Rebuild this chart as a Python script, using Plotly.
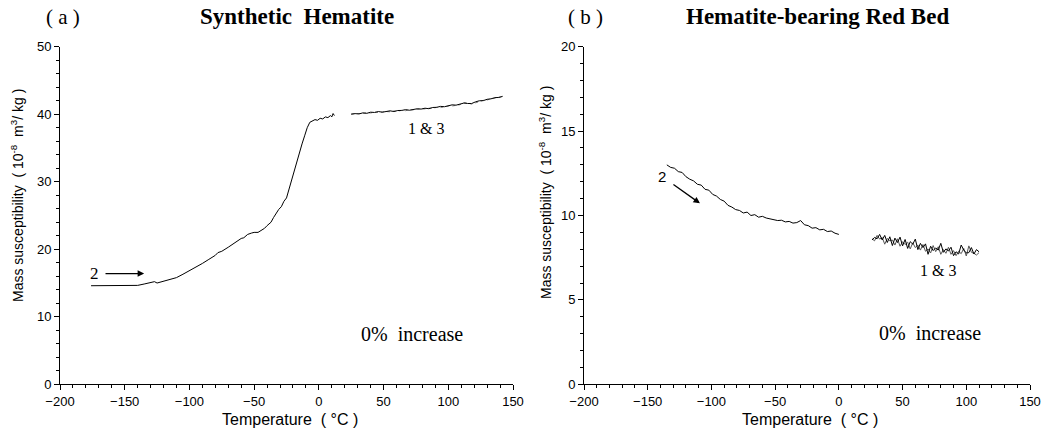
import plotly.graph_objects as go

# ---------------- data: panel (a) Synthetic Hematite ----------------
a_cool_x = [-176, -170, -165, -160, -155, -150, -145, -140, -135, -130, -127, -125, -120, -115, -110,
            -105, -100, -95, -90, -85, -80, -78, -75, -70, -65, -60, -58, -55, -52, -50, -47, -45,
            -42, -40, -37, -35, -33, -31, -29, -27, -25, -23, -21, -19, -17, -15, -13, -11, -9, -7,
            -5, -3, -1, 1, 3, 5, 7, 9, 10, 11, 12]
a_cool_y = [14.6, 14.6, 14.6, 14.6, 14.6, 14.6, 14.6, 14.65, 14.85, 15.0, 15.2, 15.0, 15.3, 15.5, 15.8,
            16.3, 16.8, 17.3, 17.9, 18.5, 19.1, 19.5, 19.7, 20.3, 21.0, 21.6, 21.7, 22.2, 22.4, 22.5,
            22.5, 22.7, 23.1, 23.5, 24.0, 24.7, 25.4, 25.9, 26.3, 27.1, 27.6, 29.0, 30.2, 31.5, 32.8,
            34.2, 35.6, 36.8, 38.0, 38.8, 39.0, 39.2, 39.1, 39.4, 39.3, 39.6, 39.5, 39.8, 39.6, 40.1, 39.8]

a_heat_x = [25, 28, 31, 34, 37, 40, 43, 46, 49, 52, 55, 58, 61, 64, 67, 70, 73, 76, 79, 82,
            85, 88, 91, 94, 97, 100, 103, 106, 109, 112, 115, 118, 121, 124, 127, 130, 133, 136, 139, 142]
a_heat1_y = [40.00, 40.09, 40.04, 40.20, 40.13, 40.30, 40.26, 40.40, 40.30, 40.42, 40.50, 40.40, 40.55,
             40.56, 40.68, 40.59, 40.72, 40.81, 40.76, 40.89, 40.82, 41.00, 41.02, 41.16, 41.11, 41.26,
             41.39, 41.34, 41.48, 41.65, 41.59, 41.58, 41.83, 41.99, 42.01, 42.21, 42.28, 42.46, 42.48, 42.65]
a_heat3_y = [40.05, 40.02, 40.10, 40.12, 40.22, 40.18, 40.30, 40.26, 40.38, 40.40, 40.36, 40.48, 40.45,
             40.58, 40.52, 40.66, 40.64, 40.74, 40.80, 40.78, 40.90, 40.88, 41.02, 40.98, 41.14, 41.20,
             41.22, 41.36, 41.40, 41.72, 41.68, 41.50, 41.74, 41.86, 42.06, 42.10, 42.30, 42.34, 42.52, 42.58]

# ---------------- data: panel (b) Hematite-bearing Red Bed ----------------
b_cool_x = [-135, -132, -129, -126, -123, -120, -117, -114, -111, -108, -105, -102, -99, -96, -93, -90,
            -87, -84, -81, -78, -75, -72, -69, -66, -63, -60, -57, -54, -51, -48, -45, -42, -39, -36,
            -33, -30, -27, -24, -21, -18, -15, -12, -9, -6, -3, 0]
b_cool_y = [13.00, 12.85, 12.80, 12.60, 12.55, 12.30, 12.15, 12.05, 11.85, 11.80, 11.55, 11.50, 11.25,
            11.15, 10.95, 10.85, 10.60, 10.50, 10.35, 10.30, 10.15, 10.20, 10.00, 10.05, 9.90, 9.95,
            9.85, 9.80, 9.75, 9.70, 9.72, 9.62, 9.65, 9.55, 9.58, 9.70, 9.45, 9.40, 9.25, 9.28, 9.15,
            9.18, 9.05, 9.08, 8.95, 8.88]

b_heat_x = [26, 28, 30, 32, 34, 36, 38, 40, 42, 44, 46, 48, 50, 52, 54, 56, 58, 60, 62, 64, 66, 68,
            70, 72, 74, 76, 78, 80, 82, 84, 86, 88, 90, 92, 94, 96, 98, 100, 102, 104, 106, 108, 110]
b_heat1_y = [8.55, 8.70, 8.62, 8.88, 8.55, 8.82, 8.40, 8.74, 8.22, 8.66, 8.40, 8.72, 8.20, 8.58, 8.05,
             8.45, 8.30, 8.60, 7.98, 8.35, 8.10, 8.32, 7.70, 8.18, 7.92, 8.08, 7.95, 8.35, 7.82, 8.02,
             7.90, 8.12, 7.62, 7.85, 7.72, 8.25, 7.95, 7.78, 7.80, 8.10, 7.72, 7.98, 7.85]
b_heat3_y = [8.62, 8.50, 8.82, 8.60, 8.70, 8.30, 8.64, 8.50, 8.55, 8.25, 8.62, 8.18, 8.45, 8.28, 8.42,
             8.02, 8.38, 8.10, 8.25, 7.95, 8.28, 7.88, 8.02, 7.78, 8.22, 7.86, 8.15, 7.70, 7.98, 7.76,
             8.12, 7.70, 7.92, 7.62, 7.88, 7.74, 8.05, 7.60, 8.20, 7.82, 7.76, 7.66, 7.80]

x_ticks = [-200, -150, -100, -50, 0, 50, 100, 150]
a_y_ticks = [0, 10, 20, 30, 40, 50]
b_y_ticks = [0, 5, 10, 15, 20]

SERIF = "Liberation Serif"
SANS = "Liberation Sans"

fig = go.Figure()

# panel (a)
fig.add_trace(go.Scatter(x=a_cool_x, y=a_cool_y, mode="lines", line=dict(color="black", width=1),
                         xaxis="x", yaxis="y", showlegend=False))
fig.add_trace(go.Scatter(x=a_heat_x, y=a_heat3_y, mode="lines", line=dict(color="#888", width=1, dash="dot"),
                         xaxis="x", yaxis="y", showlegend=False))
fig.add_trace(go.Scatter(x=a_heat_x, y=a_heat1_y, mode="lines", line=dict(color="black", width=1),
                         xaxis="x", yaxis="y", showlegend=False))
# panel (b)
fig.add_trace(go.Scatter(x=b_cool_x, y=b_cool_y, mode="lines", line=dict(color="black", width=1),
                         xaxis="x2", yaxis="y2", showlegend=False))
fig.add_trace(go.Scatter(x=b_heat_x, y=b_heat3_y, mode="lines", line=dict(color="#555", width=1),
                         xaxis="x2", yaxis="y2", showlegend=False))
fig.add_trace(go.Scatter(x=b_heat_x, y=b_heat1_y, mode="lines", line=dict(color="black", width=1),
                         xaxis="x2", yaxis="y2", showlegend=False))

def xax(domain, anchor):
    return dict(domain=domain, anchor=anchor, range=[-200, 150], tickmode="array", tickvals=x_ticks,
                ticks="outside", ticklen=5, tickcolor="black", showline=True, linecolor="black",
                linewidth=1, showgrid=False, zeroline=False, automargin=False,
                tickfont=dict(family=SANS, size=13, color="black"),
                minor=dict(ticks="outside", ticklen=3, dtick=10, tickcolor="black", showgrid=False))

def yax(rng, vals, mdt, anchor):
    return dict(domain=[1 - 384.3 / 429, 1 - 46.7 / 429], anchor=anchor, range=rng, tickmode="array",
                tickvals=vals, ticks="outside", ticklen=5, tickcolor="black", showline=True,
                linecolor="black", linewidth=1, showgrid=False, zeroline=False, automargin=False,
                tickfont=dict(family=SANS, size=13, color="black"),
                minor=dict(ticks="outside", ticklen=3, dtick=mdt, tickcolor="black", showgrid=False))

ann = []
ytitle = "Mass susceptibility  ( 10<sup>-8</sup>  m<sup>3</sup>/ kg )"
ann.append(dict(text=ytitle, xref="paper", yref="paper", x=17 / 1050, y=1 - 196 / 429, textangle=-90,
                showarrow=False, font=dict(family=SANS, size=14, color="black"), xanchor="center", yanchor="middle"))
ann.append(dict(text=ytitle, xref="paper", yref="paper", x=545 / 1050, y=1 - 193 / 429, textangle=-90,
                showarrow=False, font=dict(family=SANS, size=14, color="black"), xanchor="center", yanchor="middle"))
xtitle = "Temperature  ( °C )"
ann.append(dict(text=xtitle, xref="paper", yref="paper", x=290 / 1050, y=1 - 419 / 429, showarrow=False,
                font=dict(family=SANS, size=16, color="black"), xanchor="center", yanchor="middle"))
ann.append(dict(text=xtitle, xref="paper", yref="paper", x=810 / 1050, y=1 - 419 / 429, showarrow=False,
                font=dict(family=SANS, size=16, color="black"), xanchor="center", yanchor="middle"))
# titles
ann.append(dict(text="( a )", xref="paper", yref="paper", x=63 / 1050, y=1 - 17 / 429, showarrow=False,
                font=dict(family=SERIF, size=21, color="black"), xanchor="center", yanchor="middle"))
ann.append(dict(text="<b>Synthetic  Hematite</b>", xref="paper", yref="paper", x=297 / 1050, y=1 - 17 / 429,
                showarrow=False, font=dict(family=SERIF, size=23, color="black"), xanchor="center", yanchor="middle"))
ann.append(dict(text="( b )", xref="paper", yref="paper", x=585 / 1050, y=1 - 17 / 429, showarrow=False,
                font=dict(family=SERIF, size=21, color="black"), xanchor="center", yanchor="middle"))
ann.append(dict(text="<b>Hematite-bearing Red Bed</b>", xref="paper", yref="paper", x=817 / 1050, y=1 - 17 / 429,
                showarrow=False, font=dict(family=SERIF, size=23, color="black"), xanchor="center", yanchor="middle"))
# panel (a) annotations
ann.append(dict(text="2", xref="x", yref="y", x=-173, y=16.4, showarrow=False,
                font=dict(family=SERIF, size=17, color="black")))
ann.append(dict(text="", xref="x", yref="y", x=-135, y=16.4, axref="x", ayref="y", ax=-166, ay=16.4,
                showarrow=True, arrowhead=2, arrowsize=1, arrowwidth=1.3, arrowcolor="black"))
ann.append(dict(text="1 & 3", xref="x", yref="y", x=83, y=37.9, showarrow=False,
                font=dict(family=SERIF, size=16, color="black")))
ann.append(dict(text="0%  increase", xref="x", yref="y", x=71.6, y=7.5, showarrow=False,
                font=dict(family=SERIF, size=20, color="black")))
# panel (b) annotations
ann.append(dict(text="2", xref="x2", yref="y2", x=-139, y=12.3, showarrow=False,
                font=dict(family=SANS, size=15, color="black")))
ann.append(dict(text="", xref="x2", yref="y2", x=-109, y=10.72, axref="x2", ayref="y2", ax=-131, ay=11.9,
                showarrow=True, arrowhead=2, arrowsize=1, arrowwidth=1.3, arrowcolor="black"))
ann.append(dict(text="1 & 3", xref="x2", yref="y2", x=78, y=6.77, showarrow=False,
                font=dict(family=SERIF, size=16, color="black")))
ann.append(dict(text="0%  increase", xref="x2", yref="y2", x=71.6, y=3.02, showarrow=False,
                font=dict(family=SERIF, size=20, color="black")))

fig.update_layout(
    width=1050, height=429, margin=dict(l=0, r=0, t=0, b=0),
    paper_bgcolor="white", plot_bgcolor="white",
    xaxis=xax([60 / 1050, 513 / 1050], "y"),
    yaxis=yax([0, 50], a_y_ticks, 2, "x"),
    xaxis2=xax([584 / 1050, 1030 / 1050], "y2"),
    yaxis2=yax([0, 20], b_y_ticks, 1, "x2"),
    annotations=ann,
)

# remove the browser's default 8px body margin so the figure fills the window exactly
fig.write_html("out.html", config={"displayModeBar": False},
               post_script="document.body.style.margin='0';document.body.style.overflow='hidden';")
